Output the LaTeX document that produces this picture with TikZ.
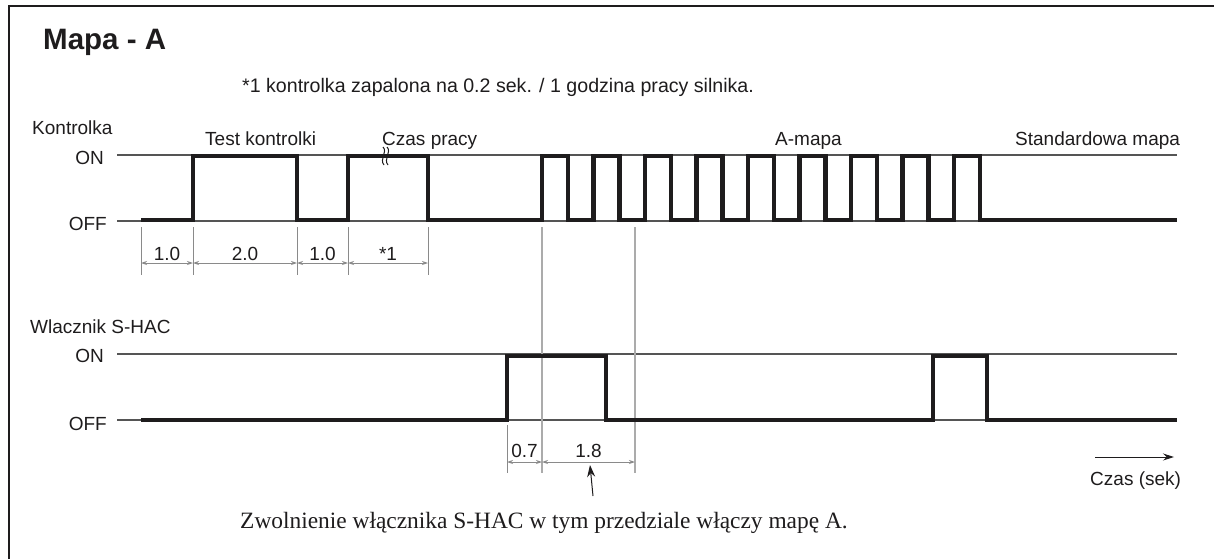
\documentclass[tikz,border=0pt]{standalone}
\usepackage{fontspec}
\setmainfont{Liberation Serif}
\setsansfont{Liberation Sans}
\usepackage{xcolor}
\usetikzlibrary{arrows.meta}
\definecolor{ink}{HTML}{1E1C1D}
\definecolor{refgray}{HTML}{555555}
\definecolor{guidegray}{HTML}{ABABAB}
\definecolor{tickgray}{HTML}{8A8A8A}

\begin{document}
\begin{tikzpicture}[x=1pt,y=-1pt, every node/.style={font=\sffamily\fontsize{19}{22}\selectfont,text=ink,inner sep=0pt}, sig/.style={draw=ink,line width=4.2pt,line join=miter}, ref/.style={draw=refgray,line width=1.1pt}, guide/.style={draw=guidegray,line width=1.6pt}, tick/.style={draw=tickgray,line width=1pt}, dim/.style={draw=tickgray,line width=.9pt,{Stealth[length=6pt,width=4pt]}-{Stealth[length=6pt,width=4pt]}}]
\useasboundingbox (0,0) rectangle (1214,559);
\draw[ink,line width=2pt] (9,559) -- (9,6) -- (1214,6);
\node[anchor=base west,font=\sffamily\bfseries\fontsize{29.5}{34}\selectfont] (title) at (43,50) {Mapa - A};
\node[anchor=base west,font=\sffamily\fontsize{19.6}{22}\selectfont] (note) at (242,93) {*1 kontrolka zapalona na 0.2 sek. / 1 godzina pracy silnika.};
\node[anchor=base west] (lamp) at (32,134) {Kontrolka};
\node[anchor=base east] (on1) at (104,164) {ON};
\node[anchor=base east] (off1) at (107,230) {OFF};
\node[anchor=base west] (test) at (205,145) {Test kontrolki};
\node[anchor=base west] (work) at (382,145) {Czas pracy};
\node[anchor=base west] (amap) at (775,145) {A-mapa};
\node[anchor=base west] (stdmap) at (1015,145) {Standardowa mapa};
\node[anchor=base west] (switch) at (30,333) {Wlacznik S-HAC};
\node[anchor=base east] (on2) at (104,362) {ON};
\node[anchor=base east] (off2) at (107,430) {OFF};
\foreach \y in {155,221,354,420}{\draw[ref] (117,\y) -- (1177,\y);}
\foreach \x in {542,635}{\draw[guide] (\x,227) -- (\x,473);}
\draw[sig] (141,220) -- (193,220) -- (193,156) -- (297,156) -- (297,220) -- (348,220) -- (348,156) -- (428,156) -- (428,220) foreach \i in {0,...,8}{ -- ({542+51.5*\i},220) -- ({542+51.5*\i},156) -- ({568+51.5*\i},156) -- ({568+51.5*\i},220)} -- (1177,220);
\draw[sig] (141,420) -- (507,420) -- (507,356) -- (606,356) -- (606,420) -- (933,420) -- (933,356) -- (987,356) -- (987,420) -- (1177,420);
\foreach \d in {0,4}{\draw[ink,line width=1pt] ({383+\d},147) .. controls ({388+\d},152) and ({379+\d},159) .. ({384+\d},165);}
\foreach \x in {141,193,297,348,428}{\draw[tick] (\x,227) -- (\x,275);}
\draw[tick] (507,425) -- (507,473);
\foreach \n/\x in {a/141,b/193,c/297,d/348,e/428}{\coordinate (d\n) at (\x,263);}
\foreach \p/\q/\t in {a/b/1.0,b/c/2.0,c/d/1.0,d/e/*1}{\draw[dim] (d\p) -- (d\q) node[midway,anchor=base,yshift=3pt] {\t};}
\coordinate (sa) at (507,462);
\coordinate (sb) at (542,462);
\coordinate (sc) at (635,462);
\draw[dim] (sa) -- (sb) node[midway,anchor=base,yshift=5pt] {0.7};
\draw[dim] (sb) -- (sc) node[midway,anchor=base,yshift=5pt] {1.8};
\coordinate (tail) at (593,496);
\coordinate (head) at (590,465);
\draw[ink,line width=1pt,-{Stealth[length=12pt,width=8pt]}] (tail) -- (head);
\coordinate (t0) at (1095,457);
\coordinate (t1) at (1174,457);
\draw[ink,line width=1pt,-{Stealth[length=11pt,width=7pt]}] (t0) -- (t1);
\node[anchor=base west] (time) at (1090,485) {Czas (sek)};
\node[anchor=base west,font=\rmfamily\fontsize{23.4}{26}\selectfont] (release) at (240,528) {Zwolnienie włącznika S-HAC w tym przedziale włączy mapę A.};
\end{tikzpicture}
\end{document}
